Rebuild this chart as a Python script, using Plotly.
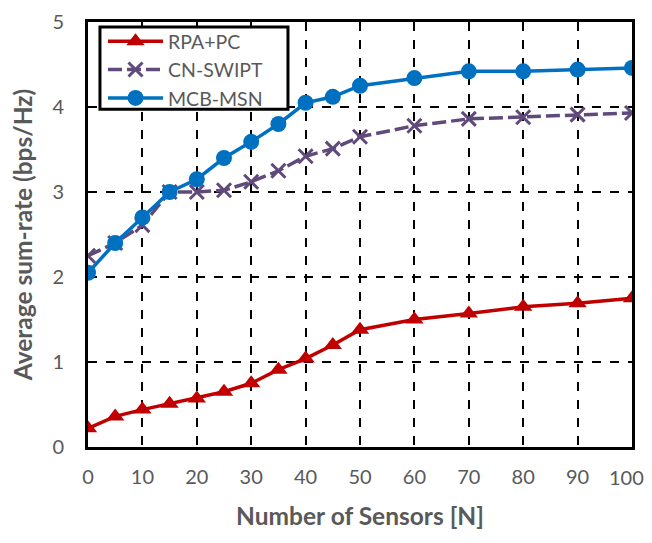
import plotly.graph_objects as go

x_vals = [0, 5, 10, 15, 20, 25, 30, 35, 40, 45, 50, 60, 70, 80, 90, 100]
rpa_pc = [0.22, 0.36, 0.44, 0.51, 0.57, 0.65, 0.75, 0.91, 1.04, 1.20, 1.38, 1.50, 1.57, 1.65, 1.69, 1.75]
cn_swipt = [2.25, 2.40, 2.61, 3.00, 3.00, 3.02, 3.12, 3.25, 3.42, 3.51, 3.65, 3.78, 3.86, 3.88, 3.91, 3.93]
mcb_msn = [2.05, 2.40, 2.70, 3.00, 3.15, 3.40, 3.59, 3.80, 4.05, 4.12, 4.25, 4.34, 4.42, 4.42, 4.44, 4.46]
x_ticks = [0, 10, 20, 30, 40, 50, 60, 70, 80, 90, 100]
y_ticks = [0, 1, 2, 3, 4, 5]

FONT = "Lato"
GRAY = "#595959"

fig = go.Figure()
fig.add_trace(go.Scatter(x=x_vals, y=rpa_pc, name="RPA+PC", mode="lines+markers",
                         line=dict(color="#C00000", width=3.5),
                         marker=dict(symbol="triangle-up", size=16, color="#C00000")))
fig.add_trace(go.Scatter(x=x_vals, y=cn_swipt, name="CN-SWIPT", mode="lines+markers",
                         line=dict(color="#604A7B", width=3.5, dash="14px,5px"),
                         marker=dict(symbol="x-thin", size=14, color="#604A7B",
                                     line=dict(color="#604A7B", width=3))))
fig.add_trace(go.Scatter(x=x_vals, y=mcb_msn, name="MCB-MSN", mode="lines+markers",
                         line=dict(color="#0070C0", width=3.5),
                         marker=dict(symbol="circle", size=16, color="#0070C0")))

# the page body has an 8px margin; size the figure so it fits the window without scrollbars
tick_text = [str(v) for v in x_ticks]
last_label = tick_text[-1]
tick_text[-1] = ""

fig.update_layout(
    width=636, height=527,
    margin=dict(l=80, r=12, t=14, b=88),
    paper_bgcolor="white", plot_bgcolor="white",
    font=dict(family=FONT, color=GRAY, size=20),
    showlegend=True,
    legend=dict(x=0.0276, y=0.887, xanchor="left", yanchor="middle",
                bgcolor="rgba(0,0,0,0)", borderwidth=0,
                font=dict(family=FONT, size=19.5, color=GRAY),
                itemwidth=55, tracegroupgap=0),
    shapes=[dict(type="rect", xref="paper", yref="paper", layer="above",
                 x0=0.022, x1=0.3676, y0=0.795, y1=0.988,
                 fillcolor="white", line=dict(color="black", width=3))],
    annotations=[dict(x=x_ticks[-1], xref="x", y=0, yref="paper", text=last_label,
                      showarrow=False, xanchor="center", yanchor="middle",
                      xshift=-6, yshift=-30, font=dict(family=FONT, size=20, color=GRAY))],
)
fig.update_xaxes(range=[0, 100], tickvals=x_ticks, ticktext=tick_text,
                 showgrid=True, gridcolor="black", gridwidth=2, griddash="dash",
                 showline=True, linecolor="black", linewidth=3, mirror=True,
                 ticks="", ticklabelstandoff=10, zeroline=False, automargin=False,
                 title=dict(text="<b>Number of Sensors [N]</b>", font=dict(size=24.5, color=GRAY), standoff=21))
fig.update_yaxes(range=[0, 5], tickvals=y_ticks, ticktext=[str(v) for v in y_ticks],
                 showgrid=True, gridcolor="black", gridwidth=2, griddash="dash",
                 showline=True, linecolor="black", linewidth=3, mirror=True,
                 ticks="", ticklabelstandoff=17, zeroline=False, automargin=False,
                 title=dict(text="<b>Average sum-rate (bps/Hz)</b>", font=dict(size=24.5, color=GRAY), standoff=13))

fig.write_html("out.html")
